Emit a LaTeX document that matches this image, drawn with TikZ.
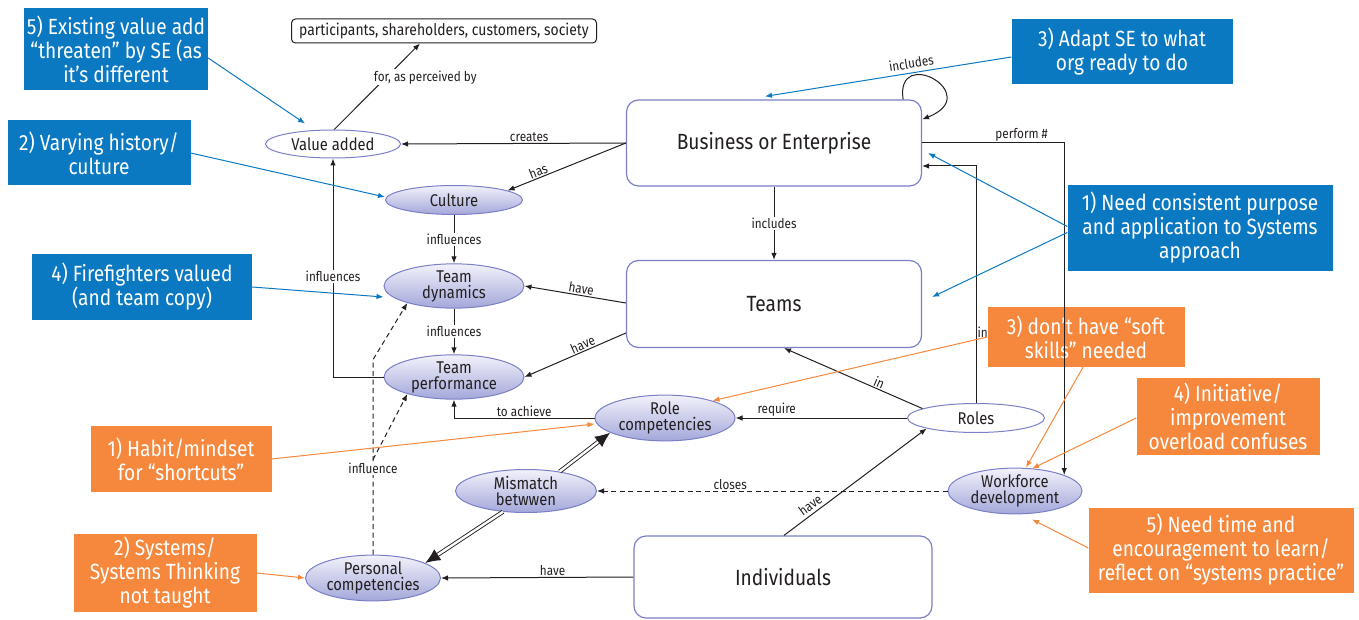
\documentclass[tikz,border=0pt]{standalone}
\usepackage{fontspec}
\setmainfont{Fira Sans}[FakeStretch=0.87]
\usetikzlibrary{arrows.meta,shapes.geometric}
\definecolor{callblue}{HTML}{0A79C2}
\definecolor{callorange}{HTML}{F5883D}
\definecolor{rim}{HTML}{7B7FC6}
\definecolor{shadetop}{HTML}{F2F2FB}
\definecolor{shadebot}{HTML}{A3A7D9}
\definecolor{ink}{HTML}{231F20}
\begin{document}
\begin{tikzpicture}[x=1pt,y=-1pt,>={Latex[length=7pt,width=5.5pt]},
entity/.style={rounded corners=12pt,draw=rim,line width=1.2pt,fill=white,text=ink,minimum width=295pt,minimum height=86pt,font=\fontsize{22}{24}\selectfont},
concept/.style={ellipse,draw=rim,line width=1pt,top color=shadetop,bottom color=shadebot,minimum width=140pt,minimum height=43pt,inner sep=0pt,align=center,text=ink,font=\fontsize{17}{16}\selectfont},
plainconcept/.style={ellipse,draw=rim,line width=1pt,fill=white,minimum width=137pt,minimum height=29pt,inner sep=0pt,text=ink,font=\fontsize{17}{16}\selectfont},
callout/.style={fill=callblue,text=white,align=center,inner sep=0pt,font=\fontsize{22}{24}\selectfont},
issue/.style={callout,fill=callorange},
lbl/.style={text=ink,inner sep=1pt,font=\fontsize{13.5}{15}\selectfont},
link/.style={->,line width=1pt,draw=ink},
hint/.style={->,line width=1pt},
gap/.style={dash pattern=on 5pt off 3.5pt}]
\useasboundingbox (0,0) rectangle (1359,620);
\node[callout,minimum width=184pt,minimum height=82pt] (existing) at (116,49) {5) Existing value add\\“threaten” by SE (as\\it’s different};
\node[callout,minimum width=183pt,minimum height=65pt] (history) at (99,153) {2) Varying history/\\culture};
\node[callout,minimum width=221pt,minimum height=65pt] (adapt) at (1122,52) {3) Adapt SE to what\\org ready to do};
\node[callout,minimum width=265pt,minimum height=85pt] (purpose) at (1200,228) {1) Need consistent purpose\\and application to Systems\\approach};
\node[callout,minimum width=220pt,minimum height=66pt] (fire) at (142,287) {4) Firefighters valued\\(and team copy)};
\node[issue,minimum width=197pt,minimum height=60pt] (soft) at (1086,337) {3) don’t have “soft\\skills” needed};
\node[issue,minimum width=183pt,minimum height=77pt] (overload) at (1228,416) {4) Initiative/\\improvement\\overload confuses};
\node[issue,minimum width=181pt,minimum height=66pt] (habit) at (181,459) {1) Habit/mindset\\for “shortcuts”};
\node[issue,minimum width=265pt,minimum height=85pt] (reflect) at (1221,550) {5) Need time and\\encouragement to learn/\\reflect on “systems practice”};
\node[issue,minimum width=183pt,minimum height=78pt] (taught) at (165,573) {2) Systems/\\Systems Thinking\\not taught};
\node[entity,minimum width=305pt,minimum height=24pt,rounded corners=4pt,draw=ink,line width=1pt,font=\fontsize{16}{18}\selectfont] (stake) at (444,31) {participants, shareholders, customers, society};
\node[plainconcept,minimum width=135pt,minimum height=28pt] (value) at (333,144) {Value added};
\node[entity] (business) at (774,143) {Business or Enterprise};
\node[concept,minimum width=137pt,minimum height=29pt] (culture) at (454,200) {Culture};
\node[concept] (dynamics) at (454,286) {Team\\dynamics};
\node[concept,minimum height=44pt] (performance) at (454,377) {Team\\performance};
\node[entity,minimum height=87pt] (teams) at (774,304) {Teams};
\node[concept] (rolecomp) at (665,418) {Role\\competencies};
\node[plainconcept] (roles) at (976,418) {Roles};
\node[concept,minimum width=141pt] (mismatch) at (526,491) {Mismatch\\betwwen};
\node[concept,minimum width=134pt] (workforce) at (1015,491) {Workforce\\development};
\node[concept,minimum width=135pt] (personal) at (373,578) {Personal\\competencies};
\node[entity,minimum width=298pt,minimum height=82pt] (individuals) at (783,577) {Individuals};
\draw[link] (value.85)--node[lbl,pos=.55,fill=white,anchor=west,xshift=-9pt,yshift=5pt]{for, as perceived by}([xshift=-24pt]stake.south);
\draw[link] (business.west)--node[lbl,above,pos=.43]{creates}(value.east);
\draw[link] (business.west)--node[lbl,above,sloped,pos=.72]{has}(culture.10);
\draw[link] ([xshift=-19pt]business.north east)..controls +(-8,-55) and +(63,-25)..([yshift=-20pt]business.north east);
\draw[link] (business)--node[lbl,fill=white]{includes}(teams);
\draw[link] (culture)--node[lbl,fill=white]{influences}(dynamics);
\draw[link] (dynamics)--node[lbl,fill=white]{influences}(performance);
\draw[link] ([yshift=1pt]teams.west)--node[lbl,above,sloped,pos=.45]{have}(dynamics.east);
\draw[link] ([yshift=-29pt]teams.west)--node[lbl,above,sloped,pos=.4]{have}(performance.east);
\draw[link] (performance.west)-|node[lbl,pos=.73,fill=white]{influences}(value.south);
\draw[link] (rolecomp.west)-|node[lbl,pos=.25,above]{to achieve}(performance.south);
\draw[link] (roles.west)--node[lbl,above,pos=.76]{require}(rolecomp.east);
\draw[link] (roles.170)--node[lbl,above,sloped,pos=.33]{in}([xshift=10pt]teams.south);
\draw[link] (roles.north)|-node[lbl,pos=.15,right]{in}([yshift=-23pt]business.east);
\draw[link] (business.east)-|node[lbl,pos=.35,above]{perform \#}(workforce.18);
\draw[link,gap] (workforce.west)--node[lbl,above,pos=.62]{closes}(mismatch.east);
\draw[link] ([xshift=1pt]individuals.north)--node[lbl,above=2pt,sloped,pos=.22]{have}(roles.192);
\draw[link] (individuals.west)--node[lbl,above,pos=.42]{have}(personal.east);
\draw[-{Latex[length=15pt,width=13pt]},double,double distance=2.4pt,line width=.9pt,draw=ink] (mismatch.30)--(rolecomp.195);
\draw[-{Latex[length=15pt,width=13pt]},double,double distance=2.4pt,line width=.9pt,draw=ink] (mismatch.222)--(personal.16);
\draw[link,gap] ([yshift=95pt]personal.north)--(performance.200);
\draw[link,gap] (personal.north)--node[lbl,pos=.44,fill=white]{influence}++(0,-195)--(dynamics.200);
\draw[hint,callblue] ([yshift=-9pt]existing.east)--([xshift=-28pt,yshift=6pt]value.north);
\draw[hint,callblue] (history.east)--([yshift=3pt]culture.west);
\draw[hint,callblue,<-] ([xshift=-9pt,yshift=3pt]business.north)--node[lbl,above=3pt,sloped,pos=.6]{includes}([yshift=-5pt]adapt.west);
\draw[hint,callblue] ([yshift=1.5pt]purpose.west)--([xshift=6pt,yshift=-10pt]business.east);
\draw[hint,callblue] ([yshift=-4.5pt]purpose.west)--([xshift=10pt,yshift=7pt]teams.east);
\draw[hint,callblue] (fire.east)--([yshift=-11pt]dynamics.west);
\draw[hint,callorange] (soft.west)--(rolecomp.20);
\draw[hint,callorange] ([xshift=-3pt]soft.south)--([xshift=11pt]workforce.north);
\draw[hint,callorange] ([yshift=-2pt]overload.west)--([xshift=17pt,yshift=-1pt]workforce.north);
\draw[hint,callorange] ([yshift=2pt]reflect.west)--([xshift=17pt,yshift=-5pt]workforce.south);
\draw[hint,callorange] (habit.east)--([yshift=-6pt]rolecomp.west);
\draw[hint,callorange] (taught.east)--(personal.west);
\end{tikzpicture}
\end{document}
